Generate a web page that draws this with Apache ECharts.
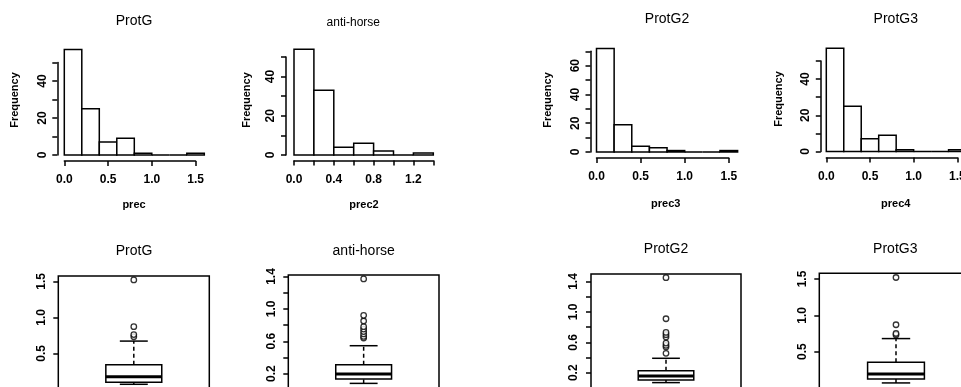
<!DOCTYPE html>
<html><head><meta charset="utf-8">
<script src="https://cdn.jsdelivr.net/npm/echarts@6/dist/echarts.min.js"></script>
<style>html,body{margin:0;padding:0;background:#fff}#c{width:961px;height:387px}</style>
</head><body><div id="c"></div>
<script>
// ---------------- data ----------------
const titles = ['ProtG', 'anti-horse', 'ProtG2', 'ProtG3'];
const xNames = ['prec', 'prec2', 'prec3', 'prec4'];
const yName = 'Frequency';

// histogram breaks and counts
const breaks1 = [0, 0.2, 0.4, 0.6, 0.8, 1.0, 1.2, 1.4, 1.6];
const counts1 = [57, 25, 7, 9, 1, 0, 0, 1];
const breaks2 = [0, 0.2, 0.4, 0.6, 0.8, 1.0, 1.2, 1.4];
const counts2 = [54, 33, 4, 6, 2, 0, 1];
const breaks3 = [0, 0.2, 0.4, 0.6, 0.8, 1.0, 1.2, 1.4, 1.6];
const counts3 = [72, 19, 4, 3, 1, 0, 0, 1];
const breaks4 = [0, 0.2, 0.4, 0.6, 0.8, 1.0, 1.2, 1.4, 1.6];
const counts4 = [57, 25, 7, 9, 1, 0, 0, 1];

// histogram tick values / labels
const histXTicks1 = [0, 0.5, 1.0, 1.5];
const histXLabels1 = [0, 0.5, 1.0, 1.5];
const histXTicks2 = [0, 0.2, 0.4, 0.6, 0.8, 1.0, 1.2, 1.4];
const histXLabels2 = [0, 0.4, 0.8, 1.2];
const histXTicks3 = [0, 0.5, 1.0, 1.5];
const histXLabels3 = [0, 0.5, 1.0, 1.5];
const histXTicks4 = [0, 0.5, 1.0, 1.5];
const histXLabels4 = [0, 0.5, 1.0, 1.5];
const histYTicks1 = [0, 10, 20, 30, 40, 50];
const histYLabels1 = [0, 20, 40];
const histYTicks2 = [0, 10, 20, 30, 40, 50];
const histYLabels2 = [0, 20, 40];
const histYTicks3 = [0, 10, 20, 30, 40, 50, 60, 70];
const histYLabels3 = [0, 20, 40, 60];
const histYTicks4 = [0, 10, 20, 30, 40, 50];
const histYLabels4 = [0, 20, 40];

// boxplot stats: [lower whisker, Q1, median, Q3, upper whisker]
const box1 = [0.07, 0.10, 0.175, 0.34, 0.67];
const out1 = [0.73, 0.76, 0.87, 1.52];
const box2 = [0.08, 0.135, 0.196, 0.31, 0.545];
const out2 = [0.64, 0.66, 0.69, 0.72, 0.75, 0.78, 0.85, 0.92, 1.37];
const box3 = [0.07, 0.104, 0.157, 0.226, 0.39];
const out3 = [0.455, 0.54, 0.56, 0.59, 0.67, 0.70, 0.73, 0.91, 1.45];
const box4 = [0.07, 0.124, 0.193, 0.354, 0.68];
const out4 = [0.73, 0.75, 0.87, 1.52];

const boxYTicks1 = [0.5, 1.0, 1.5];
const boxYLabels1 = [0.5, 1.0, 1.5];
const boxYTicks2 = [0.2, 0.4, 0.6, 0.8, 1.0, 1.2, 1.4];
const boxYLabels2 = [0.2, 0.6, 1.0, 1.4];
const boxYTicks3 = [0.2, 0.4, 0.6, 0.8, 1.0, 1.2, 1.4];
const boxYLabels3 = [0.2, 0.6, 1.0, 1.4];
const boxYTicks4 = [0.5, 1.0, 1.5];
const boxYLabels4 = [0.5, 1.0, 1.5];

// ---------------- layout / style ----------------
const FONT = 'Liberation Sans, Arial, Helvetica, sans-serif';
const LW = 1.5;
const hists = [
  {breaks: breaks1, counts: counts1, xt: histXTicks1, xl: histXLabels1, yt: histYTicks1, yl: histYLabels1},
  {breaks: breaks2, counts: counts2, xt: histXTicks2, xl: histXLabels2, yt: histYTicks2, yl: histYLabels2},
  {breaks: breaks3, counts: counts3, xt: histXTicks3, xl: histXLabels3, yt: histYTicks3, yl: histYLabels3},
  {breaks: breaks4, counts: counts4, xt: histXTicks4, xl: histXLabels4, yt: histYTicks4, yl: histYLabels4}
];
const histLayout = [
  {left: 64.3, top: 62.5, width: 131.25, height: 92.5, yOff: 7, xOff: 6},
  {left: 294, top: 57, width: 139.3, height: 98, yOff: 8, xOff: 5.5},
  {left: 596.5, top: 51.3, width: 132.3, height: 100.7, yOff: 6, xOff: 6},
  {left: 826.3, top: 61, width: 131, height: 90.5, yOff: 5.5, xOff: 6}
];
const boxes = [
  {stats: box1, out: out1, yt: boxYTicks1, yl: boxYLabels1},
  {stats: box2, out: out2, yt: boxYTicks2, yl: boxYLabels2},
  {stats: box3, out: out3, yt: boxYTicks3, yl: boxYLabels3},
  {stats: box4, out: out4, yt: boxYTicks4, yl: boxYLabels4}
];
const boxLayout = [
  {left: 58.3, top: 276, width: 151, ymin: -0.03, ymax: 1.574, ppu: 72},
  {left: 288.3, top: 275, width: 150.7, ymin: -0.03, ymax: 1.418, ppu: 81},
  {left: 591, top: 274, width: 150, ymin: -0.03, ymax: 1.499, ppu: 76},
  {left: 819.3, top: 273.3, width: 153.4, ymin: -0.03, ymax: 1.578, ppu: 72.7}
];
const BOX_HALF = 0.2, STAPLE_HALF = 0.1;

const topTitlePos = [[134, 20.7, 14], [353.3, 22.5, 12], [667, 19, 14], [895.8, 19, 14]];
const botTitlePos = [[134, 250.7, 14], [363.7, 251, 14], [666, 249.3, 14], [895.3, 249, 14]];
const xNamePos = [[134, 205], [364, 205], [665.8, 204], [895.8, 204]];
const yNamePos = [[15, 100], [246.7, 100], [548.3, 100], [778.5, 99]];

const grid = [], xAxis = [], yAxis = [], series = [], graphic = [];
const tickStyle = {show: true, inside: false, length: 5, lineStyle: {color: '#000', width: LW}};
const labelStyle = {color: '#000', fontFamily: FONT, fontSize: 12, fontWeight: 'bold'};

hists.forEach((h, i) => {
  const L = histLayout[i];
  grid.push({left: L.left, top: L.top, width: L.width, height: L.height, containLabel: false, outerBoundsMode: 'none'});
  xAxis.push({
    type: 'value', gridIndex: i, min: h.xt[0], max: h.xt[h.xt.length - 1], offset: L.xOff,
    splitLine: {show: false},
    axisLine: {show: true, onZero: false, lineStyle: {color: '#000', width: LW}},
    axisTick: Object.assign({customValues: h.xt}, tickStyle),
    axisLabel: Object.assign({customValues: h.xl, margin: 13, formatter: v => Number(v).toFixed(1)}, labelStyle)
  });
  yAxis.push({
    type: 'value', gridIndex: i, min: h.yt[0], max: h.yt[h.yt.length - 1], offset: L.yOff,
    splitLine: {show: false},
    axisLine: {show: true, onZero: false, lineStyle: {color: '#000', width: LW}},
    axisTick: Object.assign({customValues: h.yt}, tickStyle),
    axisLabel: Object.assign({customValues: h.yl, margin: 9, rotate: 90, formatter: v => String(v)}, labelStyle)
  });
  series.push({
    type: 'custom', xAxisIndex: i, yAxisIndex: i, silent: true, clip: false,
    encode: {x: [0, 1], y: 2},
    data: h.counts.map((c, k) => [h.breaks[k], h.breaks[k + 1], c]),
    renderItem: (params, api) => {
      const p0 = api.coord([api.value(0), 0]);
      const p1 = api.coord([api.value(1), api.value(2)]);
      return {
        type: 'rect',
        shape: {x: p0[0], y: p1[1], width: p1[0] - p0[0], height: p0[1] - p1[1]},
        style: {fill: '#fff', stroke: '#000', lineWidth: LW}
      };
    }
  });
});

boxes.forEach((b, j) => {
  const i = j + 4;
  const L = boxLayout[j];
  grid.push({
    left: L.left, top: L.top, width: L.width, height: (L.ymax - L.ymin) * L.ppu,
    show: true, borderColor: '#000', borderWidth: LW, backgroundColor: 'transparent',
    containLabel: false, outerBoundsMode: 'none'
  });
  xAxis.push({type: 'value', gridIndex: i, min: 0.46, max: 1.54, show: false});
  yAxis.push({
    type: 'value', gridIndex: i, min: L.ymin, max: L.ymax,
    splitLine: {show: false},
    axisLine: {show: false, onZero: false},
    axisTick: Object.assign({customValues: b.yt}, tickStyle),
    axisLabel: Object.assign({customValues: b.yl, margin: 11, rotate: 90, formatter: v => Number(v).toFixed(1)}, labelStyle)
  });
  series.push({
    type: 'custom', xAxisIndex: i, yAxisIndex: i, silent: true, clip: false,
    encode: {x: 0, y: [1, 2, 3, 4, 5]},
    data: [[1].concat(b.stats)],
    renderItem: (params, api) => {
      const x = api.value(0);
      const lo = api.value(1), q1 = api.value(2), med = api.value(3), q3 = api.value(4), hi = api.value(5);
      const c = (a, v) => api.coord([a, v]);
      const line = (p, q, w, dash) => ({
        type: 'line', shape: {x1: p[0], y1: p[1], x2: q[0], y2: q[1]},
        style: {stroke: '#000', lineWidth: w, lineDash: dash || null}
      });
      const tl = c(x - BOX_HALF, q3), br = c(x + BOX_HALF, q1);
      return {
        type: 'group',
        children: [
          line(c(x, q3), c(x, hi), LW, [4, 3]),
          line(c(x, lo), c(x, q1), LW, [4, 3]),
          line(c(x - STAPLE_HALF, hi), c(x + STAPLE_HALF, hi), LW),
          line(c(x - STAPLE_HALF, lo), c(x + STAPLE_HALF, lo), LW),
          {type: 'rect', shape: {x: tl[0], y: tl[1], width: br[0] - tl[0], height: br[1] - tl[1]},
           style: {fill: '#fff', stroke: '#000', lineWidth: LW}},
          line(c(x - BOX_HALF, med), c(x + BOX_HALF, med), 3)
        ]
      };
    }
  });
  series.push({
    type: 'scatter', xAxisIndex: i, yAxisIndex: i, silent: true,
    symbol: 'circle', symbolSize: 5.5,
    itemStyle: {color: '#fff', borderColor: '#000', borderWidth: 1.3},
    data: b.out.map(v => [1, v])
  });
});

const txt = (text, x, y, size, weight, rot) => ({
  type: 'text', x: x, y: y, rotation: rot || 0, silent: true,
  style: {text: text, fill: '#000', fontFamily: FONT, fontSize: size, fontWeight: weight,
          align: 'center', verticalAlign: 'middle'}
});
titles.forEach((t, k) => {
  graphic.push(txt(t, topTitlePos[k][0], topTitlePos[k][1], topTitlePos[k][2], 'normal'));
  graphic.push(txt(t, botTitlePos[k][0], botTitlePos[k][1], botTitlePos[k][2], 'normal'));
  graphic.push(txt(xNames[k], xNamePos[k][0], xNamePos[k][1], 11, 'bold'));
  graphic.push(txt(yName, yNamePos[k][0], yNamePos[k][1], 11, 'bold', Math.PI / 2));
});

const chart = echarts.init(document.getElementById('c'), null, {renderer: 'canvas'});
chart.setOption({
  backgroundColor: '#fff',
  animation: false,
  grid: grid, xAxis: xAxis, yAxis: yAxis, series: series, graphic: graphic
});
</script></body></html>
